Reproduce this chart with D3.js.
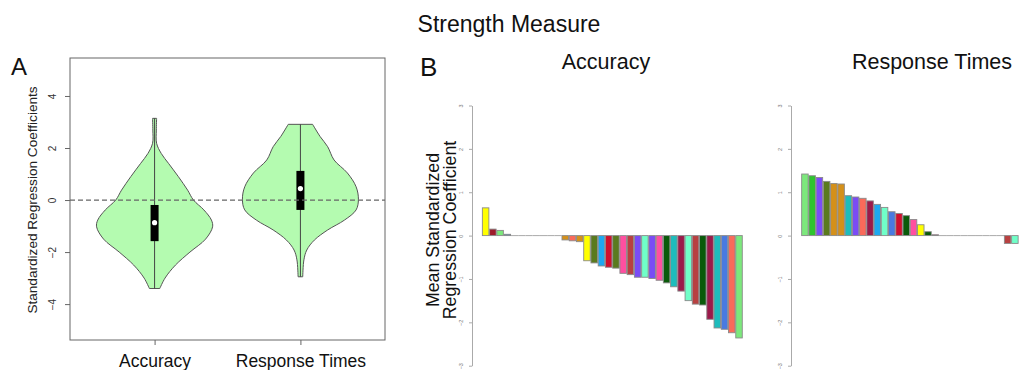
<!DOCTYPE html>
<html>
<head>
<meta charset="utf-8">
<script src="https://cdn.jsdelivr.net/npm/d3@7"></script>
<style>
  body { margin: 0; background: #fff; }
  svg { display: block; font-family: "Liberation Sans", Arial, sans-serif; }
</style>
</head>
<body>
<svg id="chart" width="1019" height="370"></svg>
<script>
// ---- data ----
const violinGroups = ["Accuracy", "Response Times"];

// density profile: value -> relative half-width
const accDensityV = [3.14, 2.69, 2.18, 1.79, 1.41, 0.9, 0.38, 0, -0.38, -0.77, -1.03, -1.5, -2.0, -2.5, -3.0, -3.4];
const accDensityW = [0.035, 0.03, 0.035, 0.115, 0.24, 0.41, 0.57, 0.67, 0.85, 0.98, 1.0, 0.88, 0.61, 0.36, 0.18, 0.09];
const rtDensityV = [2.91, 2.44, 2.05, 1.54, 1.04, 0.51, 0.03, -0.38, -0.77, -1.15, -1.54, -1.92, -2.3, -2.95];
const rtDensityW = [0.21, 0.34, 0.47, 0.58, 0.81, 0.96, 1.0, 0.96, 0.76, 0.47, 0.24, 0.11, 0.06, 0.04];

// box stats: [q1, median, q3]
const accBox = [-1.58, -0.87, -0.19];
const rtBox = [-0.38, 0.44, 1.12];

const yTicksA = [-4, -2, 0, 2, 4];
const yTicksB = [-3, -2, -1, 0, 1, 2, 3];

const accBars = [0.64, 0.15, 0.12, 0.03, 0, 0, 0, 0, 0, 0, 0,
  -0.1, -0.12, -0.14, -0.58, -0.63, -0.7, -0.73, -0.75, -0.87, -0.9, -0.96, -0.96,
  -0.99, -1.03, -1.09, -1.18, -1.28, -1.5, -1.58, -1.6, -1.93, -2.13, -2.16, -2.24, -2.36];
const accColors = ["#ffff00", "#9e1a2a", "#7ce87c", "#2a7ab8", "#999", "#999", "#999", "#999", "#999", "#999", "#999",
  "#d4901a", "#fa6a5a", "#d4901a", "#ffff00", "#5a7a1e", "#1ea8f0", "#d0102e", "#5a7a1e", "#ff4fa0", "#b84040",
  "#7a4cf5", "#70ffc8", "#7a4cf5", "#ff4fa0", "#0a5a0a", "#1ebcbc", "#9b1a4a", "#70ffc8", "#b84040", "#0a5a0a",
  "#9b1a4a", "#1ebcbc", "#4a7ae0", "#fa6a5a", "#7ce87c"];

const rtBars = [1.42, 1.38, 1.34, 1.25, 1.2, 1.19, 0.92, 0.89, 0.86, 0.8, 0.72, 0.65, 0.55, 0.51, 0.46,
  0.37, 0.25, 0.09, 0.02, 0, 0, 0, 0, 0, 0, 0, 0, 0, -0.18, -0.18];
const rtColors = ["#7ce87c", "#2ec42e", "#7a4cf5", "#5a7a1e", "#d4901a", "#d4901a", "#1ebcbc", "#7a4cf5",
  "#fa6a5a", "#9b1a4a", "#1ea8f0", "#70ffc8", "#4a7ae0", "#d0102e", "#0a5a0a", "#ff4fa0", "#ffff00",
  "#0a5a0a", "#ff4fa0", "#999", "#999", "#999", "#999", "#999", "#999", "#999", "#999", "#999",
  "#b84040", "#70ffc8"];

const svg = d3.select("#chart");

// ---- titles ----
svg.append("text").attr("x", 509).attr("y", 32).attr("text-anchor", "middle")
  .attr("font-size", 23).attr("fill", "#111").text("Strength Measure");
svg.append("text").attr("x", 11).attr("y", 75).attr("font-size", 24).attr("fill", "#111").text("A");
svg.append("text").attr("x", 420).attr("y", 76).attr("font-size", 26).attr("fill", "#111").text("B");

// ---- panel A: violins ----
const boxA = { left: 70, right: 385, top: 58, bottom: 340 };
const yA = d3.scaleLinear().domain([-5.38, 5.46]).range([boxA.bottom, boxA.top]);
const xA = d3.scalePoint().domain(violinGroups).range([boxA.left, boxA.right]).padding(0.58);
const wA = d3.scaleLinear().domain([0, 1]).range([0, 58]);

const violins = [
  { name: "Accuracy", v: accDensityV, w: accDensityW, box: accBox },
  { name: "Response Times", v: rtDensityV, w: rtDensityW, box: rtBox },
];

const gA = svg.append("g");

violins.forEach((vd) => {
  const cx = xA(vd.name);
  const pts = vd.v.map((v, i) => ({ v, w: vd.w[i] }));
  const area = d3.area()
    .y((d) => yA(d.v))
    .x0((d) => cx - wA(d.w))
    .x1((d) => cx + wA(d.w))
    .curve(d3.curveCatmullRom);
  gA.append("path").attr("d", area(pts))
    .attr("fill", "#b4fbb0").attr("stroke", "#555").attr("stroke-width", 1);

  // whisker through full range
  gA.append("line")
    .attr("x1", cx).attr("x2", cx)
    .attr("y1", yA(d3.max(vd.v))).attr("y2", yA(d3.min(vd.v)))
    .attr("stroke", "#444").attr("stroke-width", 1);

  gA.append("rect")
    .attr("x", cx - 4).attr("width", 8)
    .attr("y", yA(vd.box[2])).attr("height", yA(vd.box[0]) - yA(vd.box[2]))
    .attr("fill", "#000");
  gA.append("circle").attr("cx", cx).attr("cy", yA(vd.box[1])).attr("r", 2.6).attr("fill", "#fff");
});

// dashed zero line (drawn over the violins)
gA.append("line")
  .attr("x1", boxA.left).attr("x2", boxA.right)
  .attr("y1", yA(0)).attr("y2", yA(0))
  .attr("stroke", "#666").attr("stroke-width", 1.2).attr("stroke-dasharray", "5,3");

// frame
gA.append("rect")
  .attr("x", boxA.left).attr("y", boxA.top)
  .attr("width", boxA.right - boxA.left).attr("height", boxA.bottom - boxA.top)
  .attr("fill", "none").attr("stroke", "#666").attr("stroke-width", 1);

// y axis A
gA.append("g")
  .attr("transform", `translate(${boxA.left},0)`)
  .call(d3.axisLeft(yA).tickValues(yTicksA).tickFormat(d3.format("d")).tickSize(5).tickSizeOuter(0))
  .call((a) => a.select(".domain").remove())
  .call((a) => a.selectAll("line").attr("stroke", "#666"))
  .call((a) => a.selectAll("text")
    .attr("x", 0).attr("dy", 0).attr("text-anchor", "middle")
    .attr("transform", "translate(-14,0) rotate(-90)")
    .attr("font-family", "Liberation Sans, Arial, sans-serif")
    .attr("font-size", 10).attr("fill", "#333"));

// x axis A
gA.append("g")
  .attr("transform", `translate(0,${boxA.bottom})`)
  .call(d3.axisBottom(xA).tickSize(5).tickSizeOuter(0))
  .call((a) => a.select(".domain").remove())
  .call((a) => a.selectAll("line").attr("stroke", "#666"))
  .call((a) => a.selectAll("text")
    .attr("y", 27).attr("dy", 0)
    .attr("font-family", "Liberation Sans, Arial, sans-serif")
    .attr("font-size", 17.5).attr("fill", "#111"));

svg.append("text")
  .attr("transform", `translate(37,200) rotate(-90)`)
  .attr("text-anchor", "middle").attr("font-size", 13.6).attr("fill", "#222")
  .text("Standardized Regression Coefficients");

// ---- panel B: bar charts ----
const yB = d3.scaleLinear().domain([-3, 3]).range([365.7, 105.5]);

svg.append("text")
  .attr("transform", "translate(439,230) rotate(-90)")
  .attr("text-anchor", "middle").attr("font-size", 17.8).attr("fill", "#111")
  .text("Mean Standardized");
svg.append("text")
  .attr("transform", "translate(456,230) rotate(-90)")
  .attr("text-anchor", "middle").attr("font-size", 17.8).attr("fill", "#111")
  .text("Regression Coefficient");

function barPanel(title, titleX, axisX, barStart, values, colors) {
  const g = svg.append("g");
  const xB = d3.scaleBand().domain(d3.range(36))
    .range([barStart, barStart + 36 * 7.24]).paddingInner(0.1).paddingOuter(0.05);

  g.append("text").attr("x", titleX).attr("y", 69).attr("text-anchor", "middle")
    .attr("font-size", 21.5).attr("fill", "#111").text(title);

  g.append("g")
    .attr("transform", `translate(${axisX},0)`)
    .call(d3.axisLeft(yB).tickValues(yTicksB).tickFormat(d3.format("d")).tickSize(3).tickSizeOuter(0))
    .call((a) => a.select(".domain").attr("stroke", "#aaa"))
    .call((a) => a.selectAll("line").attr("stroke", "#aaa"))
    .call((a) => a.selectAll("text")
      .attr("x", 0).attr("dy", 0).attr("text-anchor", "middle")
      .attr("transform", "translate(-9,0) rotate(-90)")
      .attr("font-family", "Liberation Sans, Arial, sans-serif")
      .attr("font-size", 5.5).attr("fill", "#777"));

  const step = xB.step();
  values.forEach((v, i) => {
    const x = xB(i);
    if (v === 0) {
      g.append("line")
        .attr("x1", x - step * 0.05).attr("x2", x + xB.bandwidth() + step * 0.05)
        .attr("y1", yB(0)).attr("y2", yB(0))
        .attr("stroke", "#aaa").attr("stroke-width", 1);
      return;
    }
    g.append("rect")
      .attr("x", x).attr("width", xB.bandwidth())
      .attr("y", yB(Math.max(0, v)))
      .attr("height", Math.abs(yB(v) - yB(0)))
      .attr("fill", colors[i]).attr("stroke", "#8a8a8a").attr("stroke-width", 0.9);
  });
}

barPanel("Accuracy", 606, 472, 482.0, accBars, accColors);
barPanel("Response Times", 932, 791, 801.3, rtBars, rtColors);
</script>
</body>
</html>
